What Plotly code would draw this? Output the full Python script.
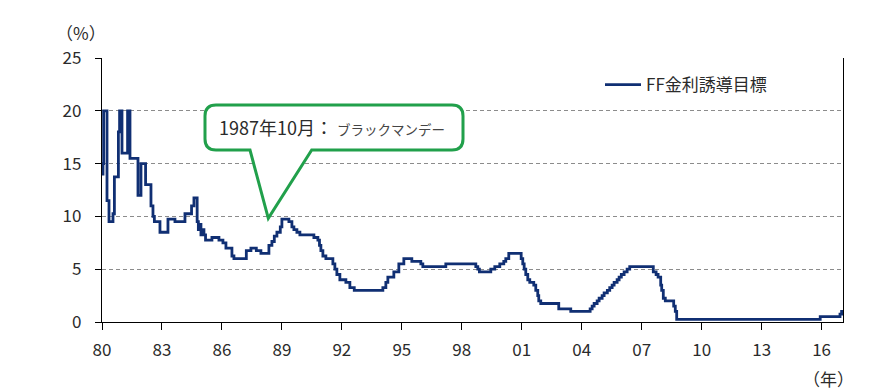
import plotly.graph_objects as go

# ---- data (step series: start of each level, decimal year) ----
dates = [
    1980.00, 1980.05, 1980.08, 1980.25, 1980.35, 1980.55, 1980.62, 1980.82, 1980.88,
    1981.00, 1981.28, 1981.40, 1981.80, 1981.95, 1982.18, 1982.45, 1982.55, 1982.62, 1982.90,
    1983.30, 1983.65, 1984.15, 1984.48, 1984.60, 1984.76, 1984.82, 1984.88, 1984.95,
    1985.02, 1985.10, 1985.18, 1985.50, 1985.85, 1986.05, 1986.20, 1986.50, 1986.60,
    1987.22, 1987.45, 1987.72, 1987.95, 1988.35, 1988.50, 1988.62, 1988.75, 1988.92,
    1989.00, 1989.35, 1989.50, 1989.60, 1989.75, 1989.90, 1990.60, 1990.80, 1990.88,
    1990.95, 1991.05, 1991.20, 1991.55, 1991.65, 1991.75, 1991.90, 1992.20, 1992.40,
    1992.62, 1994.05, 1994.20, 1994.30, 1994.60, 1994.85, 1995.10, 1995.50, 1995.95,
    1996.05, 1997.20, 1998.70, 1998.80, 1998.88, 1999.45, 1999.65, 1999.90, 2000.10,
    2000.20, 2000.35, 2000.97, 2001.05, 2001.12, 2001.20, 2001.30, 2001.40, 2001.60,
    2001.70, 2001.80, 2001.85, 2001.95, 2002.85, 2003.45, 2004.42, 2004.52, 2004.62,
    2004.77, 2004.87, 2005.02, 2005.12, 2005.28, 2005.40, 2005.52, 2005.62, 2005.77,
    2005.87, 2005.98, 2006.12, 2006.27, 2006.40, 2007.58, 2007.72, 2007.82, 2007.95,
    2008.00, 2008.08, 2008.18, 2008.60, 2008.68, 2008.75, 2015.93, 2016.92, 2017.00,
    2017.20,
]
rates = [
    14.0, 15.0, 20.0, 11.5, 9.5, 10.25, 13.75, 18.0, 20.0,
    16.0, 20.0, 15.5, 12.0, 15.0, 13.0, 11.0, 10.0, 9.5, 8.5,
    9.75, 9.5, 10.25, 11.0, 11.75, 9.5, 8.75, 9.25, 8.25,
    8.75, 8.25, 7.75, 8.0, 7.75, 7.5, 7.0, 6.25, 6.0,
    6.75, 7.0, 6.75, 6.5, 7.25, 7.625, 8.125, 8.5, 9.0,
    9.75, 9.5, 9.0, 8.75, 8.5, 8.25, 8.0, 7.75, 7.25,
    6.75, 6.25, 6.0, 5.5, 5.0, 4.5, 4.0, 3.75, 3.25,
    3.0, 3.25, 3.75, 4.25, 4.75, 5.5, 6.0, 5.75, 5.5,
    5.25, 5.5, 5.25, 5.0, 4.75, 5.0, 5.25, 5.5, 5.75,
    6.0, 6.5, 6.0, 5.5, 5.0, 4.5, 4.0, 3.75, 3.5,
    3.0, 2.5, 2.0, 1.75, 1.25, 1.0, 1.25, 1.5, 1.75,
    2.0, 2.25, 2.5, 2.75, 3.0, 3.25, 3.5, 3.75, 4.0,
    4.25, 4.5, 4.75, 5.0, 5.25, 4.75, 4.5, 4.25, 3.5,
    3.0, 2.25, 2.0, 1.5, 1.0, 0.25, 0.5, 0.75, 1.0,
    1.0,
]
tick_years = [1980, 1983, 1986, 1989, 1992, 1995, 1998, 2001, 2004, 2007, 2010, 2013, 2016]
tick_labels = ["80", "83", "86", "89", "92", "95", "98", "01", "04", "07", "10", "13", "16"]
series_name = "FF金利誘導目標"
callout_date = "1987年10月："
callout_event = "ブラックマンデー"

# ---- layout geometry (page pixels; page body has an 8px margin) ----
OFF = 8
W, H = 870 - OFF, 391 - OFF
ML, MR, MT, MB = 102 - OFF, 27, 58 - OFF, 69
PW, PH = W - ML - MR, H - MT - MB
FONT = "Noto Sans CJK JP, Noto Sans, sans-serif"
TXT = "#2b2b2b"
GREEN = "#21A04B"
NAVY = "#102F73"


def px(x):
    return (x - OFF - ML) / PW


def py(y):
    return (OFF + H - MB - y) / PH


fig = go.Figure()
fig.add_trace(go.Scatter(
    x=dates, y=rates, mode="lines", name=series_name,
    line=dict(color=NAVY, width=2.8, shape="hv"),
))

# callout bubble (rounded rectangle with pointer)
L, R, T, B, r = 205, 463, 105, 150, 11
tipx, tipy, bl, br = 268.3, 218.3, 250, 311.7


def P(x, y):
    return f"{px(x):.5f},{py(y):.5f}"


path = (
    f"M{P(L + r, T)} L{P(R - r, T)} Q{P(R, T)} {P(R, T + r)} "
    f"L{P(R, B - r)} Q{P(R, B)} {P(R - r, B)} "
    f"L{P(br, B)} L{P(tipx, tipy)} L{P(bl, B)} "
    f"L{P(L + r, B)} Q{P(L, B)} {P(L, B - r)} "
    f"L{P(L, T + r)} Q{P(L, T)} {P(L + r, T)} Z"
)
fig.add_shape(type="path", path=path, xref="paper", yref="paper",
              line=dict(color=GREEN, width=3), fillcolor="white", layer="above")

fig.add_annotation(
    x=px(217), y=py(127), xref="paper", yref="paper", xanchor="left", yanchor="middle",
    showarrow=False,
    text=f"{callout_date} <span style='font-size:13.5px;color:#454545'>{callout_event}</span>",
    font=dict(family=FONT, size=18, color=TXT),
)
fig.add_annotation(x=px(81), y=py(33), xref="paper", yref="paper", showarrow=False,
                   text="（%）", font=dict(family=FONT, size=17, color=TXT),
                   xanchor="center", yanchor="middle")
fig.add_annotation(x=px(828), y=py(378), xref="paper", yref="paper", showarrow=False,
                   text="（年）", font=dict(family=FONT, size=17, color=TXT),
                   xanchor="center", yanchor="middle")

fig.update_layout(
    width=W, height=H,
    margin=dict(l=ML, r=MR, t=MT, b=MB, pad=0),
    paper_bgcolor="white", plot_bgcolor="white",
    font=dict(family=FONT, size=17, color=TXT),
    showlegend=True,
    legend=dict(x=px(600), y=py(85), xanchor="left", yanchor="middle",
                bgcolor="rgba(0,0,0,0)", font=dict(family=FONT, size=17, color=TXT),
                itemwidth=36),
    xaxis=dict(
        range=[1980, 2017.07], tickvals=tick_years, ticktext=tick_labels,
        showgrid=False, zeroline=False, showline=True, linecolor="black", linewidth=1.3,
        ticks="outside", ticklen=7, tickcolor="black", tickwidth=1.3,
        ticklabelstandoff=5, tickfont=dict(family=FONT, size=17, color=TXT),
    ),
    yaxis=dict(
        range=[0, 25], dtick=5, tick0=0,
        showgrid=True, gridcolor="#8c8c8c", gridwidth=1, griddash="4px,3px",
        zeroline=False, showline=True, mirror=True, linecolor="black", linewidth=1.3,
        ticks="outside", ticklen=6, tickcolor="black", tickwidth=1.3,
        ticklabelstandoff=10, tickfont=dict(family=FONT, size=17, color=TXT),
    ),
)

fig.write_html("out.html")
